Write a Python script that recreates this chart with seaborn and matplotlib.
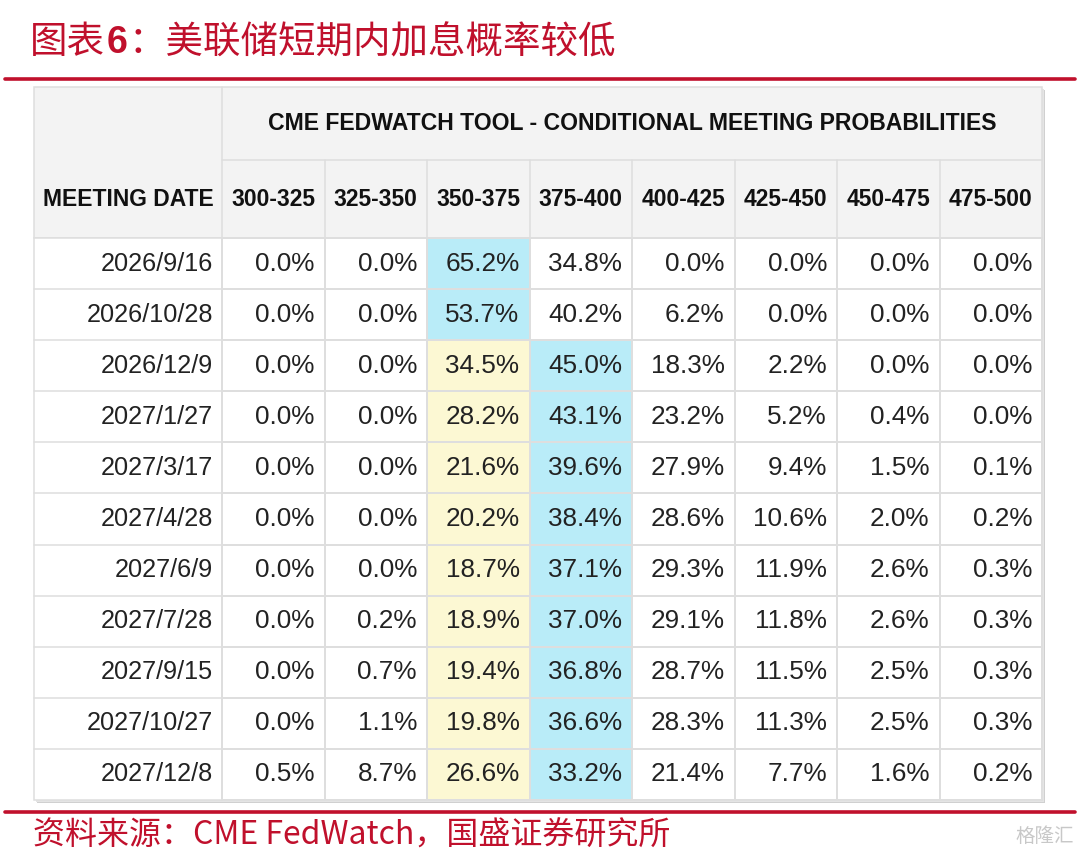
import numpy as np
import pandas as pd
import seaborn as sns
import matplotlib.pyplot as plt
from matplotlib.colors import ListedColormap
from matplotlib.patches import Rectangle

sns.set_theme(style="white")
plt.rcParams['font.family'] = ['Noto Sans CJK SC', 'DejaVu Sans']

# data
dates = ["2026/9/16", "2026/10/28", "2026/12/9", "2027/1/27", "2027/3/17", "2027/4/28",
         "2027/6/9", "2027/7/28", "2027/9/15", "2027/10/27", "2027/12/8"]
ranges = ["300-325", "325-350", "350-375", "375-400", "400-425", "425-450", "450-475", "475-500"]
p300_325 = [0.0, 0.0, 0.0, 0.0, 0.0, 0.0, 0.0, 0.0, 0.0, 0.0, 0.5]
p325_350 = [0.0, 0.0, 0.0, 0.0, 0.0, 0.0, 0.0, 0.2, 0.7, 1.1, 8.7]
p350_375 = [65.2, 53.7, 34.5, 28.2, 21.6, 20.2, 18.7, 18.9, 19.4, 19.8, 26.6]
p375_400 = [34.8, 40.2, 45.0, 43.1, 39.6, 38.4, 37.1, 37.0, 36.8, 36.6, 33.2]
p400_425 = [0.0, 6.2, 18.3, 23.2, 27.9, 28.6, 29.3, 29.1, 28.7, 28.3, 21.4]
p425_450 = [0.0, 0.0, 2.2, 5.2, 9.4, 10.6, 11.9, 11.8, 11.5, 11.3, 7.7]
p450_475 = [0.0, 0.0, 0.0, 0.4, 1.5, 2.0, 2.6, 2.6, 2.5, 2.5, 1.6]
p475_500 = [0.0, 0.0, 0.0, 0.0, 0.1, 0.2, 0.3, 0.3, 0.3, 0.3, 0.2]
current_range = "350-375"

title_a = "图表"
title_b = "6"
title_c = "：美联储短期内加息概率较低"
table_title = "CME FEDWATCH TOOL - CONDITIONAL MEETING PROBABILITIES"
source = "资料来源：CME FedWatch，国盛证券研究所"

df = pd.DataFrame(np.column_stack([p300_325, p325_350, p350_375, p375_400,
                                   p400_425, p425_450, p450_475, p475_500]),
                  index=dates, columns=ranges)

# 0 = white, 1 = current range (yellow), 2 = most likely (cyan)
codes = np.zeros(df.shape)
codes[:, ranges.index(current_range)] = 1
codes[np.arange(len(dates)), df.values.argmax(axis=1)] = 2

red = "#C0102C"
grid = "#dedede"
head_bg = "#f3f3f3"
cyan = "#b9ecf8"
yellow = "#fcf8d3"
tfont = ["Liberation Sans", "DejaVu Sans"]

W, H = 1080, 859
fig = plt.figure(figsize=(10.8, 8.59), dpi=100)
bg = fig.add_axes([0, 0, 1, 1])
bg.set_xlim(0, W)
bg.set_ylim(H, 0)
bg.axis("off")

# layout (pixels)
x0, xc, x1 = 34, 222, 1042
y0, yh1, yh2, y1 = 87, 160, 238, 800
colw = (x1 - xc) / len(ranges)
rowh = (y1 - yh2) / len(dates)

# title, rules, source
t1 = bg.text(30, 43, title_a, color=red, fontsize=27, va="center", ha="left")
fig.canvas.draw()
bb = t1.get_window_extent()
t2 = bg.text(30 + bb.width + 2, 43, title_b, color=red, fontsize=27, fontweight="bold",
             family=tfont, va="center", ha="left")
bb2 = t2.get_window_extent()
bg.text(bb2.x1 + 1, 43, title_c, color=red, fontsize=27, va="center", ha="left")
bg.plot([5, 1075], [79, 79], color=red, lw=2.6)
bg.plot([5, 1075], [812, 812], color=red, lw=2.6)
bg.text(33, 836, source, color=red, fontsize=23, va="center", ha="left")
bg.text(1074, 836, "格隆汇", color="#c8c8c8", fontsize=14, va="center", ha="right")

# shadow
bg.add_patch(Rectangle((x0 + 3, y0 + 3), x1 - x0, y1 - y0, fc="#d0d0d0", ec="none", zorder=0))
bg.add_patch(Rectangle((x0 + 1.5, y0 + 1.5), x1 - x0, y1 - y0, fc="#e4e4e4", ec="none", zorder=0))

# header cells
bg.add_patch(Rectangle((x0, y0), x1 - x0, yh2 - y0, fc=head_bg, ec=grid, lw=1.1, zorder=1))
bg.add_patch(Rectangle((x0, yh2), xc - x0, y1 - yh2, fc="white", ec=grid, lw=1.1, zorder=1))
bg.plot([xc, xc], [y0, y1], color=grid, lw=1.1, zorder=2)
bg.plot([xc, x1], [yh1, yh1], color=grid, lw=1.1, zorder=2)
for j in range(1, len(ranges)):
    bg.plot([xc + j * colw] * 2, [yh1, yh2], color=grid, lw=1.1, zorder=2)
for i in range(1, len(dates)):
    bg.plot([x0, xc], [yh2 + i * rowh] * 2, color=grid, lw=1.1, zorder=2)

bg.text((xc + x1) / 2, (y0 + yh1) / 2, table_title, family=tfont, fontsize=16.6,
        fontweight="bold", ha="center", va="center", color="#111111", zorder=3)
bg.text((x0 + xc) / 2, (yh1 + yh2) / 2, "MEETING DATE", family=tfont, fontsize=16.5,
        fontweight="bold", ha="center", va="center", color="#111111", zorder=3)
for j, r in enumerate(ranges):
    bg.text(xc + (j + 0.5) * colw, (yh1 + yh2) / 2, r, family=tfont, fontsize=16.5,
            fontweight="bold", ha="center", va="center", color="#111111", zorder=3)
for i, d in enumerate(dates):
    bg.text(xc - 9, yh2 + (i + 0.5) * rowh, d, family=tfont, fontsize=18.2,
            ha="right", va="center", color="#222222", zorder=3)

# probability block
hx = fig.add_axes([xc / W, (H - y1) / H, (x1 - xc) / W, (y1 - yh2) / H])
sns.heatmap(codes, cmap=ListedColormap(["white", yellow, cyan]), vmin=-0.5, vmax=2.5,
            cbar=False, linewidths=1.1, linecolor=grid, ax=hx)
hx.set_xticks([])
hx.set_yticks([])
pad = 10 / colw
for i in range(len(dates)):
    for j in range(len(ranges)):
        hx.text(j + 1 - pad, i + 0.5, f"{df.iat[i, j]:.1f}%", family=tfont, fontsize=18.8,
                ha="right", va="center", color="#222222")
for s in hx.spines.values():
    s.set_visible(True)
    s.set_color(grid)
    s.set_linewidth(1.1)

fig.savefig("out.png", dpi=100)
